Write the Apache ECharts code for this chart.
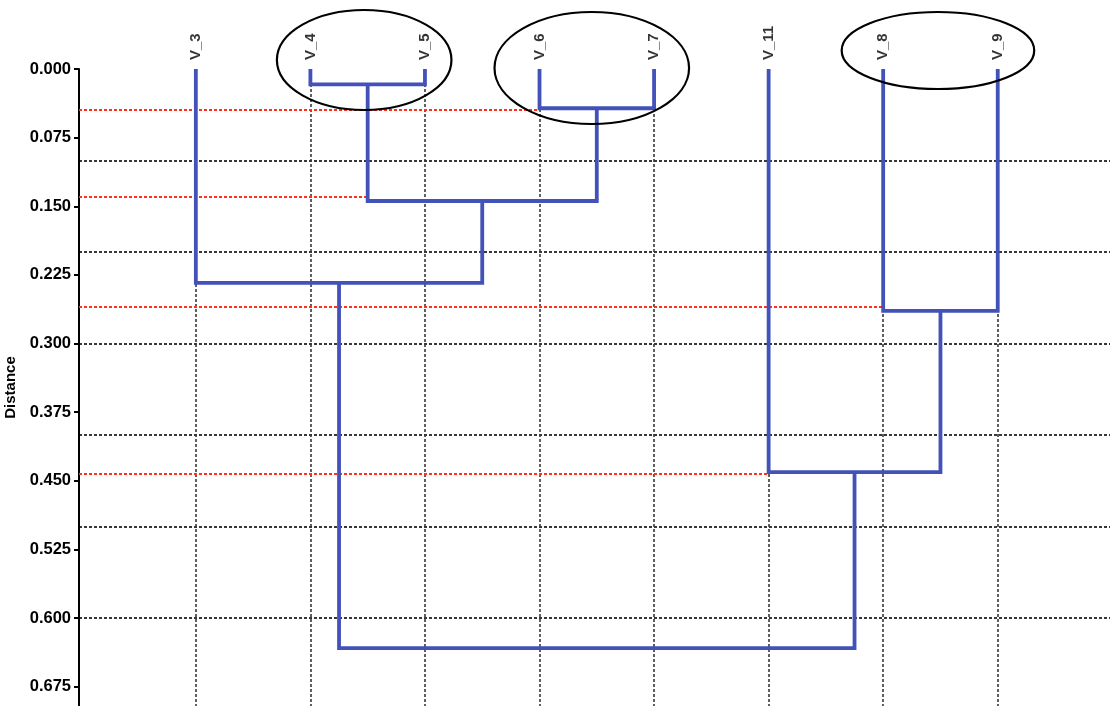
<!DOCTYPE html>
<html><head><meta charset="utf-8">
<script src="https://cdn.jsdelivr.net/npm/echarts@6/dist/echarts.min.js"></script>
<style>html,body{margin:0;padding:0;background:#fff}#c{width:1110px;height:706px}</style>
</head><body><div id="c"></div>
<script>
// ---- data ----
const leaves = ['V_3', 'V_4', 'V_5', 'V_6', 'V_7', 'V_11', 'V_8', 'V_9'];
// merges: [childA, childB, distance]; index < leaves.length = leaf, otherwise merge (index - leaves.length)
const mergeA = [1, 3, 8, 0, 6, 5, 11];
const mergeB = [2, 4, 9, 10, 7, 12, 13];
const mergeDist = [0.0167, 0.0429, 0.1442, 0.2337, 0.2643, 0.4405, 0.6327];
// red cut lines: which merge they lead to, and their level
const cutMerge = [1, 2, 4, 5];
const cutLevel = [0.044, 0.140, 0.260, 0.442];
// circled leaf pairs
const circledA = [1, 3, 6];
const circledB = [2, 4, 7];
const tickStep = 0.075;
const gridStep = 0.1;
const yMax = 0.696;
const xMin = -1.02, xMax = 7.98;

// ---- build tree geometry ----
const pos = leaves.map((_, i) => i);
const hgt = leaves.map(() => 0);
const treeLines = [];
mergeDist.forEach((d, k) => {
  const a = mergeA[k], b = mergeB[k];
  treeLines.push({coords: [[pos[a], hgt[a]], [pos[a], d], [pos[b], d], [pos[b], hgt[b]]]});
  pos.push((pos[a] + pos[b]) / 2);
  hgt.push(d);
});
const cutLines = cutLevel.map((lv, i) => ({coords: [[xMin, lv], [pos[mergeA[cutMerge[i]]], lv]]}));
const vGrid = leaves.map((_, i) => ({coords: [[i, 0], [i, yMax]]}));

const ellTweak = [
  {dx: -3.5, pad: 30, dy: -9, ry: 50},
  {dx: -5, pad: 40, dy: -1, ry: 56},
  {dx: -2.5, pad: 39, dy: -18.5, ry: 38.5}
];

const chart = echarts.init(document.getElementById('c'));
chart.setOption({
  animation: false,
  grid: {left: 79, right: 0, top: 69, bottom: 0, containLabel: false, outerBoundsMode: 'none'},
  xAxis: {type: 'value', min: xMin, max: xMax, show: false},
  yAxis: [{
    type: 'value', inverse: true, min: 0, max: yMax, interval: tickStep,
    name: 'Distance', nameLocation: 'middle', nameGap: 53,
    nameTextStyle: {fontSize: 15, fontWeight: 'bold', color: '#000', fontFamily: 'Liberation Sans'},
    axisLine: {show: true, onZero: false, lineStyle: {color: '#000', width: 2}},
    axisTick: {show: true, length: 5, lineStyle: {color: '#000', width: 2}},
    axisLabel: {margin: 8, fontSize: 16.5, fontWeight: 'bold', color: '#000', fontFamily: 'Liberation Sans',
      showMaxLabel: false, formatter: v => v.toFixed(3)},
    splitLine: {show: false}
  }, {
    type: 'value', inverse: true, min: 0, max: yMax, interval: gridStep,
    axisLine: {show: false}, axisTick: {show: false}, axisLabel: {show: false},
    splitLine: {show: true, showMinLine: false, showMaxLine: false,
      lineStyle: {color: '#383838', width: 1.8, type: [3, 2]}}
  }],
  series: [
    {
      type: 'lines', coordinateSystem: 'cartesian2d', silent: true, z: 1,
      data: vGrid,
      lineStyle: {color: '#383838', width: 1.6, type: [3, 2], opacity: 1}
    },
    {
      type: 'lines', coordinateSystem: 'cartesian2d', silent: true, z: 2,
      data: cutLines,
      lineStyle: {color: '#ff3020', width: 1.8, type: [3, 2], opacity: 1}
    },
    {
      type: 'lines', coordinateSystem: 'cartesian2d', polyline: true, silent: true, z: 3,
      data: treeLines,
      lineStyle: {color: '#4252b8', width: 3.8, opacity: 1, cap: 'butt', join: 'miter'}
    },
    {
      type: 'scatter', symbolSize: 0, silent: true, z: 4,
      data: leaves.map((_, i) => [i, 0]),
      label: {
        show: true, position: 'top', distance: 9, rotate: 90, align: 'left', verticalAlign: 'middle',
        formatter: p => leaves[p.dataIndex], fontSize: 15, fontWeight: 'bold', color: '#000',
        fontFamily: 'Liberation Sans'
      }
    },
    {
      type: 'custom', silent: true, z: 5, clip: false,
      data: circledA.map((a, i) => [a, circledB[i]]),
      renderItem: (params, api) => {
        const t = ellTweak[params.dataIndex];
        const p1 = api.coord([api.value(0), 0]);
        const p2 = api.coord([api.value(1), 0]);
        return {
          type: 'ellipse',
          shape: {cx: (p1[0] + p2[0]) / 2 + t.dx, cy: p1[1] + t.dy, rx: (p2[0] - p1[0]) / 2 + t.pad, ry: t.ry},
          style: {fill: 'none', stroke: '#000', lineWidth: 2.2}
        };
      }
    }
  ]
});
</script>
</body></html>
